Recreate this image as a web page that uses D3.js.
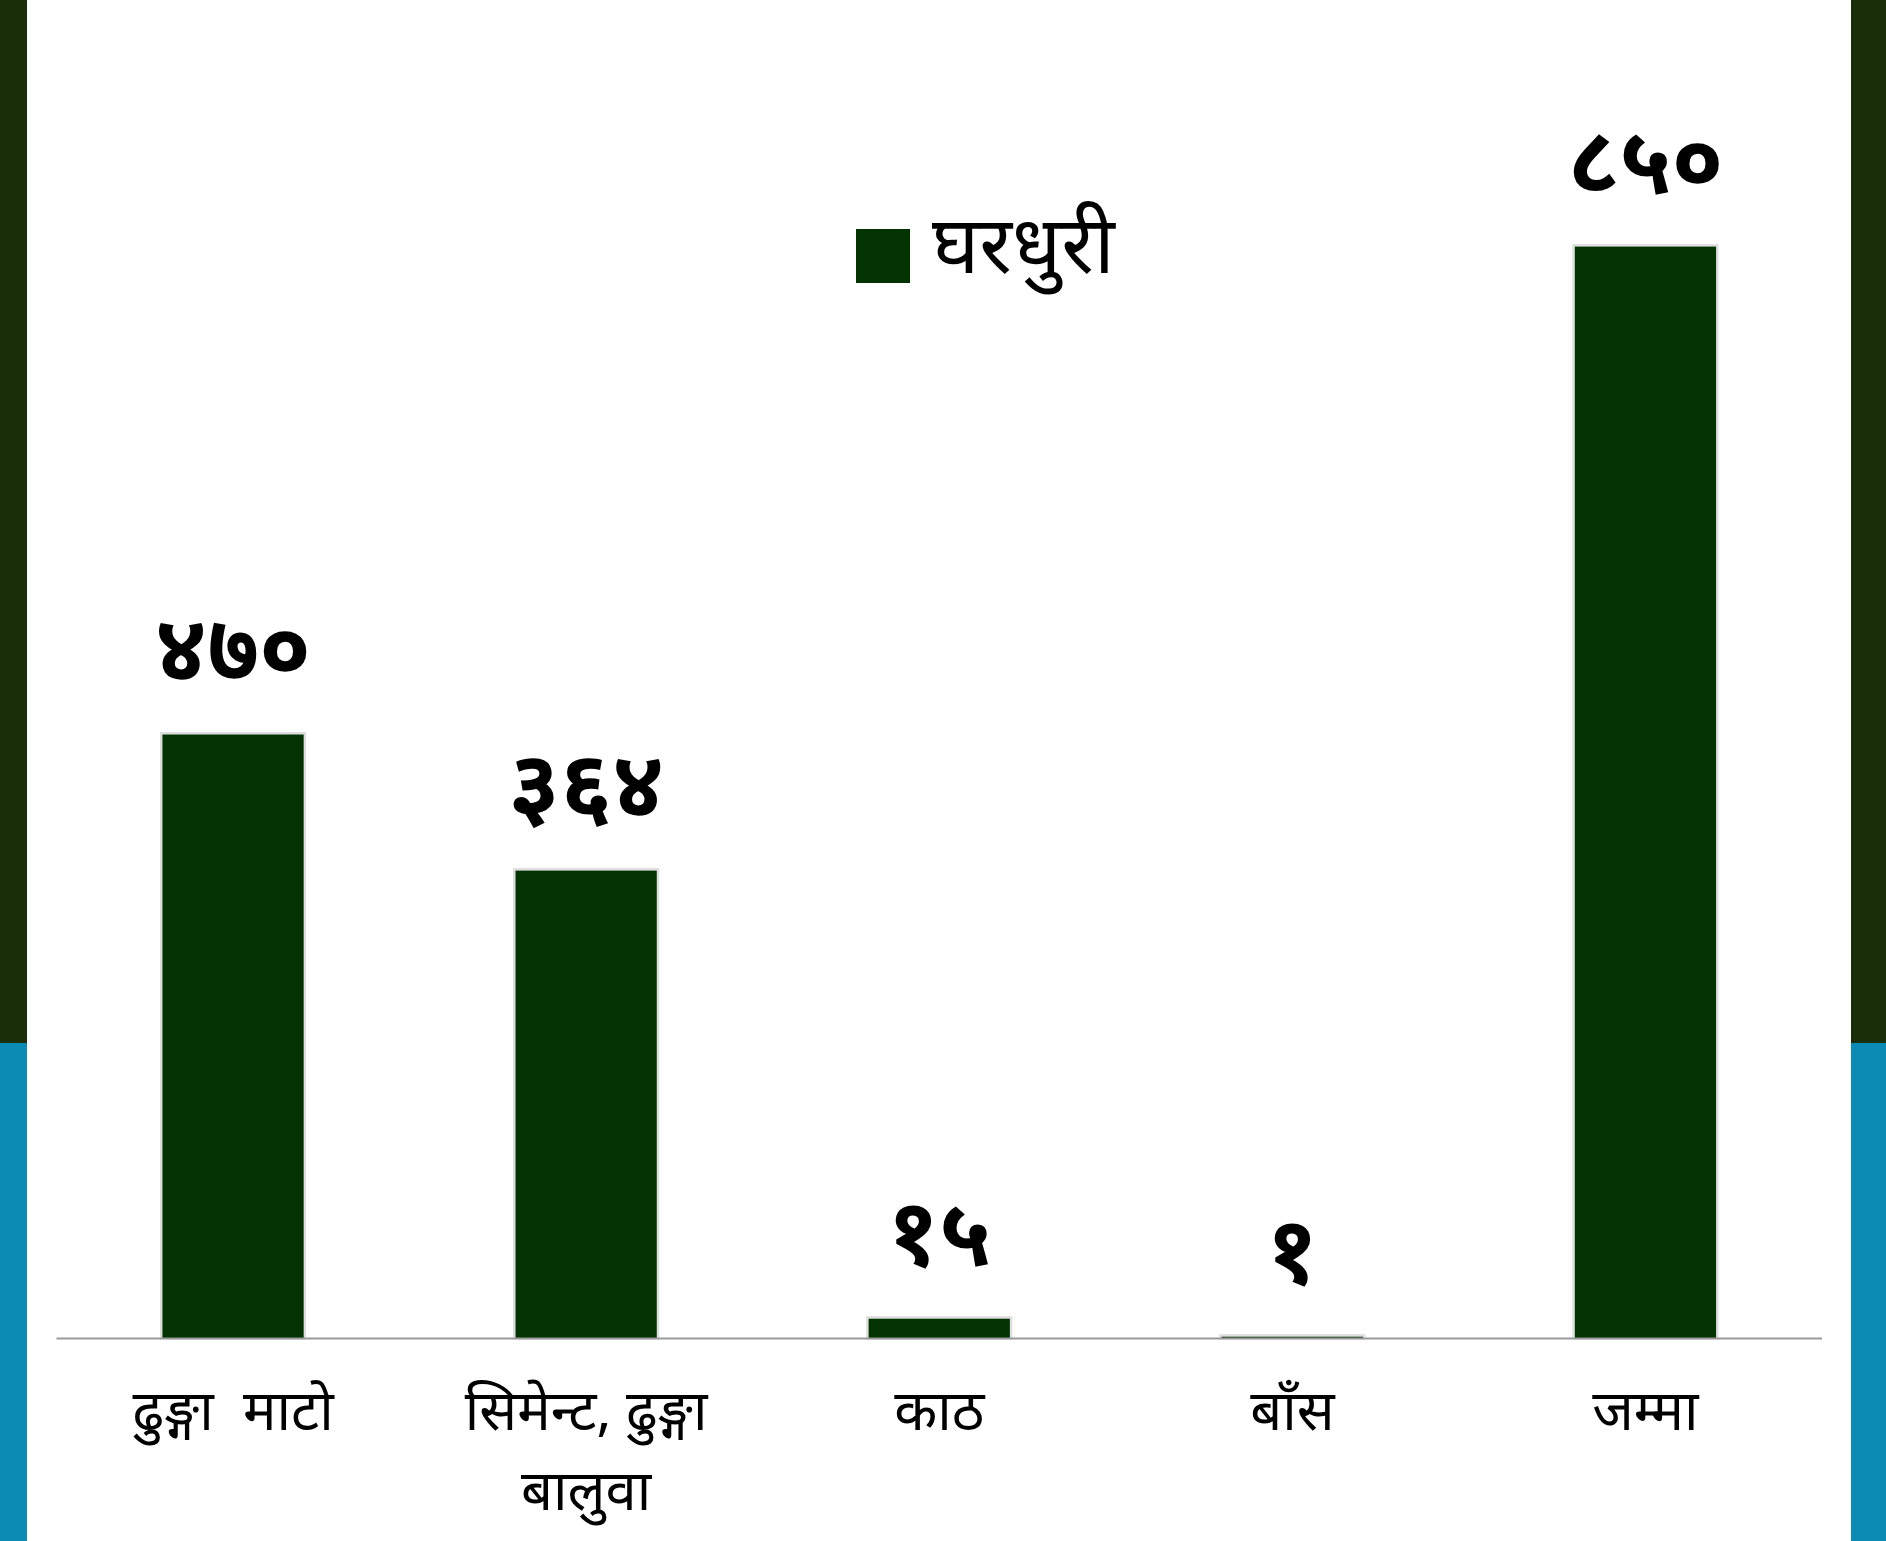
<!DOCTYPE html>
<html>
<head>
  <meta charset="UTF-8">
  <style>
    body { margin: 0; background: #fff; }
    svg { display: block; }
    .cat { font: 56px "Noto Sans", sans-serif; fill: #000; white-space: pre; }
    .val { font: bold 93px "Noto Sans", sans-serif; fill: #000; }
    .legend text { font: 80px "Noto Sans", sans-serif; fill: #000; }
  </style>
</head>
<body>
  <svg width="1886" height="1541"></svg>
  <script src="https://d3js.org/d3.v7.min.js"></script>
  <script>
    // data
    const categories = [['ढुङ्गा  माटो'], ['सिमेन्ट, ढुङ्गा', 'बालुवा'], ['काठ'], ['बाँस'], ['जम्मा']];
    const values = [470, 364, 15, 1, 850];
    const valueLabels = ['४७०', '३६४', '१५', '१', '८५०'];
    const seriesName = 'घरधुरी';

    const W = 1886, H = 1541;
    const svg = d3.select('svg');

    // side strips
    svg.append('rect').attr('x', 0).attr('y', 0).attr('width', 27).attr('height', 1043).attr('fill', '#1b2e0a');
    svg.append('rect').attr('x', 0).attr('y', 1043).attr('width', 27).attr('height', H - 1043).attr('fill', '#0c8bb4');
    svg.append('rect').attr('x', 1851).attr('y', 0).attr('width', W - 1851).attr('height', 1043).attr('fill', '#1b2e0a');
    svg.append('rect').attr('x', 1851).attr('y', 1043).attr('width', W - 1851).attr('height', H - 1043).attr('fill', '#0c8bb4');

    const x = d3.scaleBand()
      .domain(d3.range(values.length))
      .range([56.5, 1822])
      .paddingInner(0.6)
      .paddingOuter(0.3);

    const y = d3.scaleLinear().domain([0, 1000]).range([1338, 54]);

    // bar shadows
    svg.append('g').selectAll('rect')
      .data(values)
      .join('rect')
      .attr('x', (d, i) => x(i) - 2.5)
      .attr('y', d => y(d) - 2.5)
      .attr('width', x.bandwidth() + 5)
      .attr('height', d => y(0) - y(d) + 4)
      .attr('fill', '#dedede');

    svg.append('g').selectAll('rect')
      .data(values)
      .join('rect')
      .attr('x', (d, i) => x(i))
      .attr('y', d => y(d))
      .attr('width', x.bandwidth())
      .attr('height', d => y(0) - y(d))
      .attr('fill', '#033300');

    // axis line
    svg.append('line')
      .attr('x1', 56.5).attr('x2', 1822)
      .attr('y1', 1338.5).attr('y2', 1338.5)
      .attr('stroke', '#999').attr('stroke-width', 2);

    // value labels
    svg.append('g').selectAll('text')
      .data(values)
      .join('text')
      .attr('class', 'val')
      .attr('x', (d, i) => x(i) + x.bandwidth() / 2)
      .attr('y', d => y(d) - 54)
      .attr('text-anchor', 'middle')
      .text((d, i) => valueLabels[i]);

    // category labels
    const cat = svg.append('g').selectAll('text')
      .data(categories)
      .join('text')
      .attr('class', 'cat')
      .attr('text-anchor', 'middle')
      .attr('x', (d, i) => x(i) + x.bandwidth() / 2)
      .attr('y', 1430);
    cat.selectAll('tspan')
      .data(d => d)
      .join('tspan')
      .attr('x', function () { return d3.select(this.parentNode).attr('x'); })
      .attr('dy', (d, j) => j === 0 ? 0 : 80)
      .text(d => d);

    // legend
    const lg = svg.append('g').attr('class', 'legend');
    lg.append('rect').attr('x', 856).attr('y', 229).attr('width', 54).attr('height', 54).attr('fill', '#033300');
    lg.append('text').attr('x', 932).attr('y', 273).text(seriesName);
  </script>
</body>
</html>
